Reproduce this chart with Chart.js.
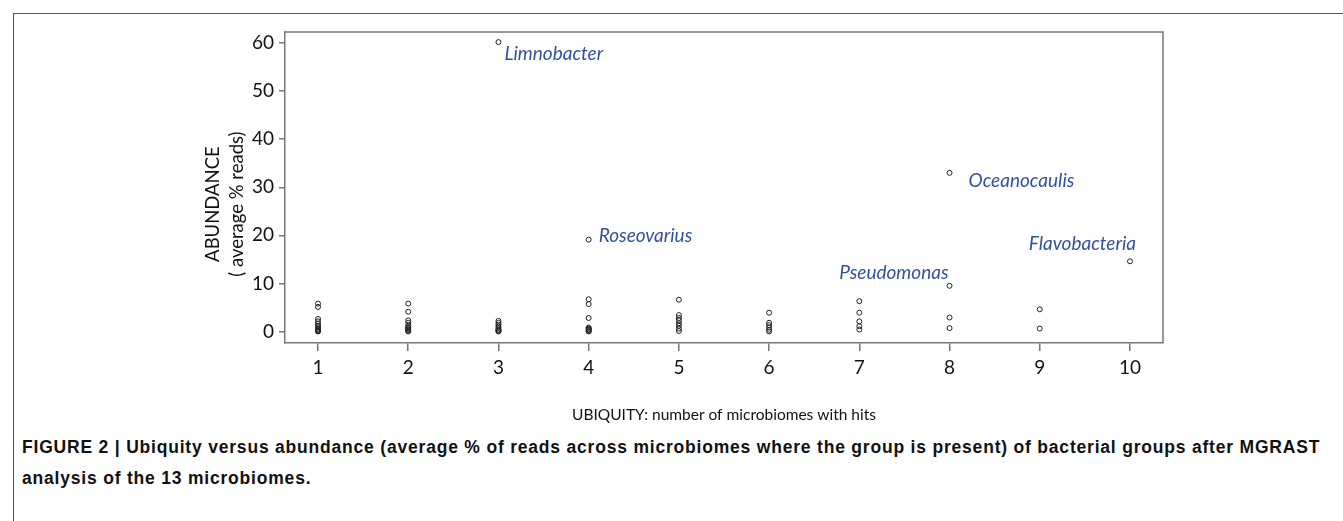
<!DOCTYPE html>
<html>
<head>
<meta charset="utf-8">
<script src="https://cdn.jsdelivr.net/npm/chart.js@4.4.1/dist/chart.umd.min.js"></script>
<style>
    body { margin: 0; background: #fff; }
    #wrap { position: relative; width: 1343px; height: 521px; overflow: hidden; }
    #frame {
        position: absolute; left: 13px; top: 13px; width: 1340px; height: 520px;
        border-left: 1.5px solid #555; border-top: 1.5px solid #555;
    }
    #chartBox { position: absolute; left: 0; top: 0; width: 1343px; height: 425px; }
    #caption {
        position: absolute; left: 22px; top: 432px; width: 1318px; white-space: nowrap;
        font: bold 17.5px "Liberation Sans", Arial, sans-serif; letter-spacing: 0.8px;
        line-height: 31px; color: #111;
    }
</style>
</head>
<body>
<div id="wrap">
    <div id="frame"></div>
    <div id="chartBox"><canvas id="myChart" width="1343" height="425"></canvas></div>
    <div id="caption">FIGURE 2 | Ubiquity versus abundance (average % of reads across microbiomes where the group is present) of bacterial groups after MGRAST<br>analysis of the 13 microbiomes.</div>
</div>
<script>
// abundance (avg % reads) of the groups found at each ubiquity level
const abund1 = [5.8, 5.1, 2.6, 2.1, 1.6, 1.2, 0.9, 0.6, 0.4, 0.2, 0.1, 0.0];
const abund2 = [5.8, 4.1, 2.3, 1.8, 1.2, 0.9, 0.7, 0.5, 0.3, 0.1, 0.0];
const abund3 = [2.2, 1.8, 1.4, 1.0, 0.7, 0.4, 0.2, 0.1, 0.0];
const abund4 = [6.7, 5.7, 2.8, 0.8, 0.6, 0.4, 0.3, 0.1, 0.0];
const abund5 = [6.6, 3.4, 2.8, 2.3, 1.7, 1.2, 0.6, 0.1];
const abund6 = [3.9, 1.8, 1.3, 0.8, 0.35, 0.0];
const abund7 = [6.3, 3.9, 2.1, 1.1, 0.4];
const abund8 = [2.9, 0.7];
const abund9 = [4.6, 0.6];
const abund10 = [];

// labelled groups
const namedGroups = ['Limnobacter', 'Roseovarius', 'Oceanocaulis', 'Pseudomonas', 'Flavobacteria'];
const namedUbiquity = [3, 4, 8, 8, 10];
const namedAbundance = [60.2, 19.1, 33.0, 9.5, 14.6];

const xTicks = [1, 2, 3, 4, 5, 6, 7, 8, 9, 10];
const yTicks = [0, 10, 20, 30, 40, 50, 60];

const allGroups = [abund1, abund2, abund3, abund4, abund5, abund6, abund7, abund8, abund9, abund10];
const points = [];
allGroups.forEach((arr, i) => {
    arr.forEach(v => points.push({ x: xTicks[i], y: v }));
});
namedGroups.forEach((n, i) => points.push({ x: namedUbiquity[i], y: namedAbundance[i] }));

// where each name sits relative to its point
const labelPlace = {
    Limnobacter:   { dx: 6,  dy: 12,  align: 'left' },
    Roseovarius:   { dx: 10, dy: -4,  align: 'left' },
    Oceanocaulis:  { dx: 19, dy: 8,   align: 'left' },
    Pseudomonas:   { dx: -1, dy: -13, align: 'right' },
    Flavobacteria: { dx: 6,  dy: -17, align: 'right' }
};

const boxAndLabels = {
    id: 'boxAndLabels',
    afterDatasetsDraw(chart) {
        const ctx = chart.ctx;
        const a = chart.chartArea;
        ctx.save();
        ctx.strokeStyle = '#777';
        ctx.lineWidth = 1.5;
        ctx.beginPath();
        ctx.moveTo(a.left, a.top);
        ctx.lineTo(a.right, a.top);
        ctx.lineTo(a.right, a.bottom);
        ctx.stroke();

        ctx.fillStyle = '#34519c';
        ctx.font = 'italic 19px Lato, "Open Sans", sans-serif';
        ctx.textBaseline = 'middle';
        namedGroups.forEach((n, i) => {
            const px = chart.scales.x.getPixelForValue(namedUbiquity[i]);
            const py = chart.scales.y.getPixelForValue(namedAbundance[i]);
            const p = labelPlace[n];
            ctx.textAlign = p.align;
            ctx.fillText(n, px + p.dx, py + p.dy);
        });
        ctx.restore();
    }
};

const ctx = document.getElementById('myChart').getContext('2d');
new Chart(ctx, {
    type: 'scatter',
    data: {
        datasets: [{
            data: points,
            pointRadius: 2.5,
            pointBorderWidth: 1,
            pointBorderColor: '#222',
            pointBackgroundColor: 'rgba(0,0,0,0)'
        }]
    },
    options: {
        responsive: false,
        animation: false,
        layout: { padding: { left: 190, top: 32, right: 180, bottom: 0 } },
        plugins: { legend: { display: false }, tooltip: { enabled: false } },
        scales: {
            x: {
                type: 'linear',
                min: 0.634,
                max: 10.366,
                afterFit: scale => { scale.height = 82; },
                afterBuildTicks: scale => { scale.ticks = xTicks.map(v => ({ value: v })); },
                grid: { drawOnChartArea: false, tickLength: 8, color: '#777', lineWidth: 1.5 },
                border: { color: '#777', width: 1.5 },
                ticks: { color: '#111', padding: 5, font: { family: 'Lato', size: 19 } },
                title: {
                    display: true,
                    text: 'UBIQUITY: number of microbiomes with hits',
                    color: '#111',
                    padding: 0,
                    font: { family: 'Lato', size: 15.5, lineHeight: 1.333 }
                }
            },
            y: {
                min: -2.4,
                max: 62.3,
                afterFit: scale => { scale.width = 95; },
                afterBuildTicks: scale => { scale.ticks = yTicks.map(v => ({ value: v })); },
                grid: { drawOnChartArea: false, tickLength: 6, color: '#777', lineWidth: 1.5 },
                border: { color: '#777', width: 1.5 },
                ticks: { color: '#111', padding: 5, font: { family: 'Lato', size: 19 } },
                title: {
                    display: true,
                    // trailing spaces nudge the block down a bit like the original
                    text: ['ABUNDANCE       ', '( average % reads)       '],
                    color: '#111',
                    padding: { top: 11, bottom: 0 },
                    font: { family: 'Lato', size: 18.5, lineHeight: 1.3 }
                }
            }
        }
    },
    plugins: [boxAndLabels]
});
</script>
</body>
</html>
